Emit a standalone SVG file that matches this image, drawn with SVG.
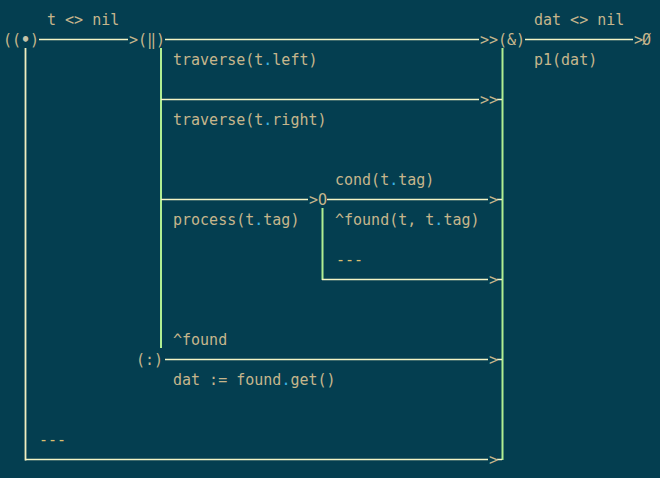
<svg xmlns="http://www.w3.org/2000/svg" width="660" height="478" viewBox="0 0 660 478">
<style>
text{font-family:"DejaVu Sans Mono","Liberation Mono",monospace;font-size:15px;fill:#c6b68c;white-space:pre}
.d{fill:#3ab4e6}
.c{fill:#dcc070}
.h{stroke:#f4f4c4;stroke-width:1.6;fill:none}
.v{stroke:#b0ee92;stroke-width:2;fill:none}
.vp{stroke:#f0eec0;stroke-width:1.8;fill:none}
</style>
<rect width="660" height="478" fill="#043e50"/>
<g id="connectors">
<path class="vp" d="M25.5 48V460.5"/>
<path class="v" d="M161 48V348"/>
<path class="v" d="M502.5 48V460"/>
<path class="v" d="M322.5 208V280"/>
<path class="h" d="M39 39.5H128M165 39.5H479M525 39.5H633"/>
<path class="h" d="M161 99.5H479M497 99.5H502"/>
<path class="h" d="M161 199.5H308M327 199.5H488M497 199.5H502"/>
<path class="h" d="M322 279.5H488M497 279.5H502"/>
<path class="h" d="M165 359.5H488M497 359.5H502"/>
<path class="h" d="M25 459.5H488M497 459.5H502"/>
<text x="129" y="45">&gt;</text>
<text x="480" y="45">&gt;&gt;</text>
<text x="634" y="45">&gt;</text>
<text x="480" y="105">&gt;&gt;</text>
<text x="309" y="205">&gt;</text>
<text x="489" y="205">&gt;</text>
<text x="489" y="285">&gt;</text>
<text x="489" y="365">&gt;</text>
<text x="489" y="465">&gt;</text>
</g>
<g id="start"><text x="3" y="45">((<tspan fill="#c4c2a8" font-weight="bold">•</tspan>)</text></g>
<g id="fork"><text x="138" y="45">(‖)</text></g>
<g id="join"><text x="498" y="45">(&amp;)</text></g>
<g id="end"><text x="642" y="45">Ø</text></g>
<g id="choice"><text x="318" y="205">O</text></g>
<g id="await"><text x="136" y="365">(:)</text></g>
<g id="labels">
<text x="47" y="25">t &lt;&gt; nil</text>
<text x="534" y="25">dat &lt;&gt; nil</text>
<text x="534" y="65">p1(dat)</text>
<text x="173" y="65">traverse(t<tspan class="d">.</tspan>left)</text>
<text x="173" y="125">traverse(t<tspan class="d">.</tspan>right)</text>
<text x="335" y="185">cond(t<tspan class="d">.</tspan>tag)</text>
<text x="173" y="225">process(t<tspan class="d">.</tspan>tag)</text>
<text x="335" y="225">^found(t, t<tspan class="d">.</tspan>tag)</text>
<text class="c" x="336" y="265">---</text>
<text x="173" y="345">^found</text>
<text x="173" y="385">dat := found<tspan class="d">.</tspan>get()</text>
<text class="c" x="39" y="445">---</text>
</g>
</svg>
